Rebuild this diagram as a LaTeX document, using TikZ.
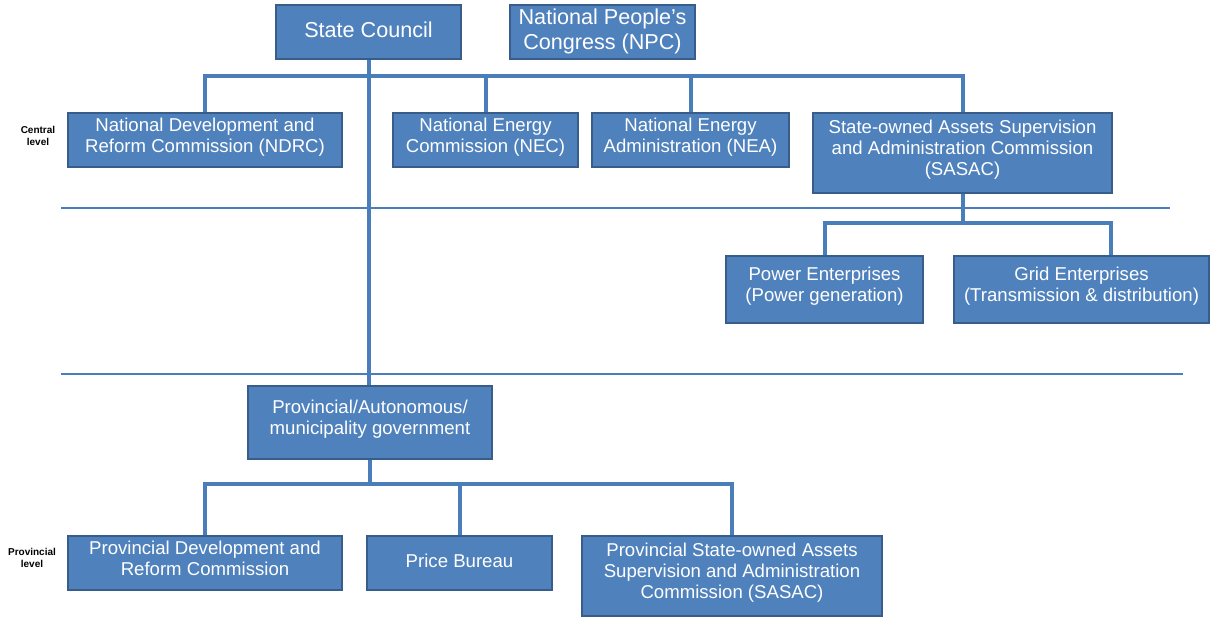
\documentclass[tikz,border=0pt]{standalone}
\usepackage{fontspec}
\setmainfont{Liberation Sans}
\usetikzlibrary{positioning,calc}
\definecolor{boxfill}{HTML}{4F81BD}
\definecolor{boxline}{HTML}{385D8A}
\definecolor{linkblue}{HTML}{4A7EBB}

\begin{document}
\begin{tikzpicture}[
  x=0.5pt, y=-0.5pt,
  box/.style={draw=boxline, line width=1.3pt, fill=boxfill, text=white,
              align=center, inner sep=1pt, minimum height=27pt, text depth=5pt,
              font=\fontsize{9.3}{10.5}\selectfont},
  topbox/.style={box, text depth=2.5pt, font=\fontsize{10.8}{12.5}\selectfont},
  link/.style={linkblue, line width=2pt},
  sep/.style={linkblue, line width=0.9pt},
  lvl/.style={align=center, font=\fontsize{5}{5.6}\selectfont\bfseries},
]
\useasboundingbox (0,0) rectangle (1210,617);

% --- level separators
\coordinate (sepA-w) at (61,208);
\coordinate (sepA-e) at (1170,208);
\coordinate (sepB-w) at (61,374);
\coordinate (sepB-e) at (1183,374);
\draw[sep] (sepA-w) -- (sepA-e);
\draw[sep] (sepB-w) -- (sepB-e);

% --- level labels
\node[lvl] (central) at (38,136) {Central\\level};
\node[lvl] (provincial) at (32,558) {Provincial\\level};

% --- top
\node[topbox, minimum width=92.5pt] (sc) at (368.5,32) {State Council};
\node[topbox, minimum width=92.5pt] (npc) at (602.5,32) {National People's\\Congress (NPC)};

% --- central level
\node[box, minimum width=137pt] (ndrc) at (205,140)
  {National Development and\\Reform Commission (NDRC)};
\node[box, minimum width=92.5pt] (nec) at (485.5,140)
  {National Energy\\Commission (NEC)};
\node[box, minimum width=98.5pt] (nea) at (690.5,140)
  {National Energy\\Administration (NEA)};
\node[box, minimum width=149.5pt, minimum height=40pt] (sasac) at (962.5,153)
  {State-owned Assets Supervision\\and Administration Commission\\(SASAC)};

% --- enterprises
\node[box, minimum width=98.5pt, minimum height=33.5pt] (power) at (824.5,289.5)
  {Power Enterprises\\(Power generation)};
\node[box, minimum width=127.5pt, minimum height=33.5pt] (grid) at (1081.5,289.5)
  {Grid Enterprises\\(Transmission \& distribution)};

% --- provincial level
\node[box, minimum width=122pt, minimum height=36.5pt] (pgov) at (370,422.5)
  {Provincial/Autonomous/\\municipality government};
\node[box, minimum width=137pt] (pdrc) at (205,563)
  {Provincial Development and\\Reform Commission};
\node[box, minimum width=92.5pt, text depth=2pt] (price) at (459.5,563) {Price Bureau};
\node[box, minimum width=150pt, minimum height=40pt] (psasac) at (732,576)
  {Provincial State-owned Assets\\Supervision and Administration\\Commission (SASAC)};

% --- connectors
\coordinate (cbus) at (0,76);
\coordinate (ebus) at (0,223);
\coordinate (pbus) at (0,484);
% grid drop sits right of the box centre
\coordinate (gridin) at ([xshift=14.75pt]grid.north);

\draw[link] (sc.south) -- (sc.south |- pgov.north);
\draw[link] (ndrc.north) |- (cbus -| sasac.north) -- (sasac.north);
\draw[link] (nec.north) -- (nec.north |- cbus);
\draw[link] (nea.north) -- (nea.north |- cbus);

\draw[link] (sasac.south) -- (sasac.south |- ebus);
\draw[link] (power.north) |- (ebus -| gridin) -- (gridin);

\draw[link] (pgov.south) -- (pgov.south |- pbus);
\draw[link] (pdrc.north) |- (pbus -| psasac.north) -- (psasac.north);
\draw[link] (price.north) -- (price.north |- pbus);
\end{tikzpicture}
\end{document}
